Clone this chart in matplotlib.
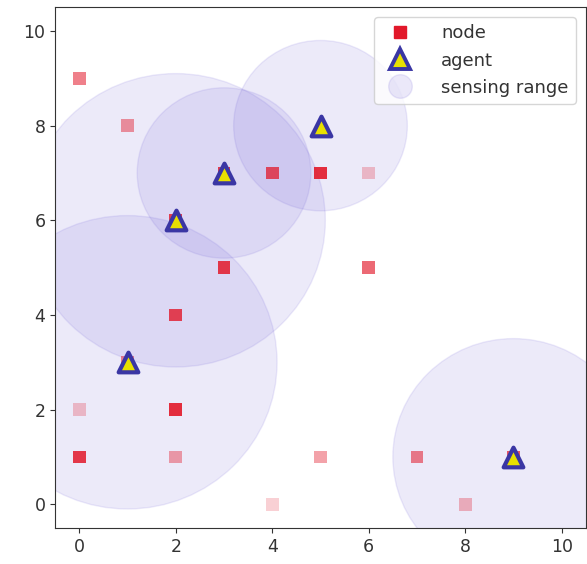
import matplotlib
matplotlib.use("Agg")
import matplotlib.pyplot as plt
from matplotlib.patches import Circle
from matplotlib.lines import Line2D
import numpy as np

# node positions and their weight (shown as opacity)
node_x = [0, 1, 4, 5, 6, 3, 6, 2, 0, 2, 0, 2, 5, 7, 4, 8, 3, 2, 1, 9]
node_y = [9, 8, 7, 7, 7, 5, 5, 4, 2, 2, 1, 1, 1, 1, 0, 0, 7, 6, 3, 1]
node_alpha = [0.55, 0.45, 0.75, 0.9, 0.25, 0.85, 0.65, 0.8, 0.25, 0.9, 0.85,
              0.4, 0.4, 0.55, 0.2, 0.3, 0.8, 0.8, 0.5, 0.7]

# agents and their sensing radius
agent_x = [1, 2, 3, 5, 9]
agent_y = [3, 6, 7, 8, 1]
agent_r = [3.1, 3.1, 1.8, 1.8, 2.5]

node_color = '#e2182a'
range_color = '#7262d8'

fig, ax = plt.subplots(figsize=(5.87, 5.64), dpi=100)
fig.subplots_adjust(left=0.094, right=0.998, bottom=0.064, top=0.987)

for x, y, r in zip(agent_x, agent_y, agent_r):
    ax.add_patch(Circle((x, y), r, facecolor=range_color, alpha=0.13,
                        edgecolor=range_color, linewidth=1.0))

for x, y, a in zip(node_x, node_y, node_alpha):
    ax.scatter(x, y, marker='s', s=85, color=node_color, alpha=a,
               edgecolors='none', zorder=3)

ax.scatter(agent_x, agent_y, marker='^', s=200, facecolor='#e8e000',
           edgecolor='#3a36a4', linewidths=3.0, zorder=4)

ax.set_xlim(-0.5, 10.5)
ax.set_ylim(-0.5, 10.5)
ax.set_xticks(np.arange(0, 11, 2))
ax.set_yticks(np.arange(0, 11, 2))
ax.tick_params(labelsize=12.5, colors='#333333')
for s in ax.spines.values():
    s.set_color('#333333')

handles = [
    Line2D([], [], marker='s', linestyle='none', color=node_color,
           markersize=9),
    Line2D([], [], marker='^', linestyle='none', markerfacecolor='#e8e000',
           markeredgecolor='#3a36a4', markeredgewidth=2.8, markersize=14),
    Line2D([], [], marker='o', linestyle='none', markerfacecolor=range_color,
           markeredgecolor=range_color, alpha=0.14, markersize=17),
]
leg = ax.legend(handles, ['node', 'agent', 'sensing range'], loc='upper right',
                fontsize=13, handletextpad=1.3, labelspacing=0.5,
                borderaxespad=0.55)
for t in leg.get_texts():
    t.set_color('#333333')

fig.savefig('out.png')
